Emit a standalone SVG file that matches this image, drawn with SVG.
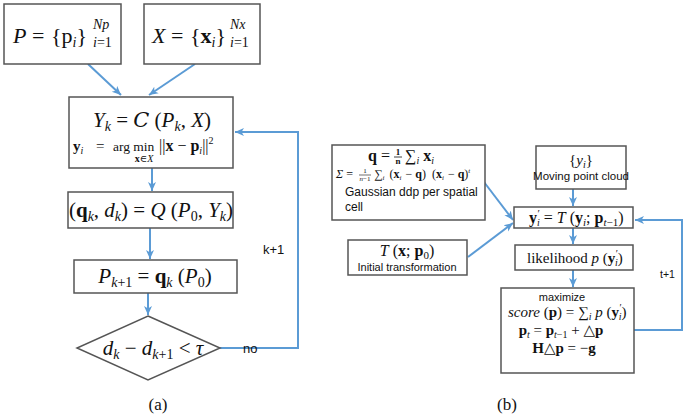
<svg xmlns="http://www.w3.org/2000/svg" width="685" height="415" viewBox="0 0 685 415">
<style>
.box{fill:#fff;stroke:#555;stroke-width:1.5}
.c{fill:none;stroke:#5b9bd5;stroke-width:2}
.m{font-family:"Liberation Serif","DejaVu Serif",serif;fill:#111}
.i{font-style:italic}
.b{font-weight:bold}
.s{font-family:"Liberation Sans",Arial,sans-serif;fill:#111}
</style>
<defs>
<marker id="ah" markerWidth="10" markerHeight="10" refX="9" refY="5" orient="auto" markerUnits="userSpaceOnUse">
<path d="M0,1 L9,5 L0,9 L2.5,5 z" fill="#5b9bd5"/>
</marker>
</defs>
<rect width="685" height="415" fill="#fff"/>

<g id="connectors">
<line class="c" x1="88" y1="64" x2="121" y2="95" marker-end="url(#ah)"/>
<line class="c" x1="195" y1="64" x2="149" y2="95" marker-end="url(#ah)"/>
<line class="c" x1="152" y1="168" x2="152" y2="191" marker-end="url(#ah)"/>
<line class="c" x1="150" y1="228" x2="150" y2="259" marker-end="url(#ah)"/>
<line class="c" x1="148" y1="293" x2="148" y2="315" marker-end="url(#ah)"/>
<polyline class="c" points="220,348 298,348 298,132 235,132" marker-end="url(#ah)"/>
<line class="c" x1="484" y1="182" x2="513" y2="220" marker-end="url(#ah)"/>
<line class="c" x1="468" y1="257" x2="513" y2="223" marker-end="url(#ah)"/>
<line class="c" x1="573" y1="189" x2="573" y2="206" marker-end="url(#ah)"/>
<line class="c" x1="573" y1="228" x2="573" y2="244" marker-end="url(#ah)"/>
<line class="c" x1="573" y1="270" x2="573" y2="287" marker-end="url(#ah)"/>
<polyline class="c" points="634,330 682,330 682,220 635,220" marker-end="url(#ah)"/>
</g>

<g id="nodeP">
<rect class="box" x="4" y="4" width="117" height="60"/>
<text class="m" y="43" font-size="22"><tspan class="i" x="13">P</tspan><tspan x="32">=</tspan><tspan x="51">{p</tspan><tspan class="i" font-size="14" dy="4">i</tspan><tspan dy="-4">}</tspan></text>
<text class="m i" x="93" y="29" font-size="14">Np</text>
<text class="m" x="93" y="47" font-size="14"><tspan class="i">i</tspan>=1</text>
</g>

<g id="nodeX">
<rect class="box" x="144" y="4" width="116" height="60"/>
<text class="m" y="43" font-size="22"><tspan class="i" x="152">X</tspan><tspan x="171">=</tspan><tspan x="190">{</tspan><tspan class="b">x</tspan><tspan class="i" font-size="14" dy="4">i</tspan><tspan dy="-4">}</tspan></text>
<text class="m i" x="230" y="29" font-size="14">Nx</text>
<text class="m" x="230" y="47" font-size="14"><tspan class="i">i</tspan>=1</text>
</g>

<g id="nodeY">
<rect class="box" x="69" y="97" width="164" height="71"/>
<text class="m" x="152" y="127" font-size="21" text-anchor="middle"><tspan class="i">Y</tspan><tspan class="i" font-size="14" dy="4">k</tspan><tspan dy="-4"> = </tspan><tspan font-family="DejaVu Serif" class="i">C</tspan> (<tspan class="i">P</tspan><tspan class="i" font-size="14" dy="4">k</tspan><tspan dy="-4">, </tspan><tspan class="i">X</tspan>)</text>
<text class="m" y="151" font-size="15"><tspan class="b" x="73">y</tspan><tspan class="i" font-size="10" dy="3">i</tspan><tspan x="96" dy="-3">=</tspan><tspan x="113" font-size="13.5">arg min</tspan><tspan x="159" font-size="16">||</tspan><tspan class="b" font-size="16">x</tspan><tspan font-size="16"> − </tspan><tspan class="b" font-size="16">p</tspan><tspan class="i" font-size="10" dy="3">i</tspan><tspan dy="-3" font-size="16">||</tspan><tspan font-size="10" dy="-7">2</tspan></text>
<text class="m" x="144" y="162" font-size="10" text-anchor="middle"><tspan class="b">x</tspan>∈<tspan class="i">X</tspan></text>
</g>

<g id="nodeQ">
<rect class="box" x="68" y="192" width="165" height="36"/>
<text class="m" x="151" y="217" font-size="21" text-anchor="middle">(<tspan class="b">q</tspan><tspan class="i" font-size="14" dy="4">k</tspan><tspan dy="-4">, </tspan><tspan class="i">d</tspan><tspan class="i" font-size="14" dy="4">k</tspan><tspan dy="-4">) = </tspan><tspan class="i">Q</tspan> (<tspan class="i">P</tspan><tspan font-size="14" dy="4">0</tspan><tspan dy="-4">, </tspan><tspan class="i">Y</tspan><tspan class="i" font-size="14" dy="4">k</tspan><tspan dy="-4">)</tspan></text>
</g>

<g id="nodeP1">
<rect class="box" x="74" y="260" width="163" height="33"/>
<text class="m" x="155" y="283" font-size="21" text-anchor="middle"><tspan class="i">P</tspan><tspan font-size="14" dy="4"><tspan class="i">k</tspan>+1</tspan><tspan dy="-4"> = </tspan><tspan class="b">q</tspan><tspan class="i" font-size="14" dy="4">k</tspan><tspan dy="-4"> (</tspan><tspan class="i">P</tspan><tspan font-size="14" dy="4">0</tspan><tspan dy="-4">)</tspan></text>
</g>

<g id="nodeD">
<polygon class="box" points="148,316 220,348 148,380 77,348"/>
<text class="m" x="153" y="355" font-size="21" text-anchor="middle"><tspan class="i">d</tspan><tspan class="i" font-size="14" dy="4">k</tspan><tspan dy="-4"> − </tspan><tspan class="i">d</tspan><tspan font-size="14" dy="4"><tspan class="i">k</tspan>+1</tspan><tspan dy="-4"> &lt; </tspan><tspan class="i">τ</tspan></text>
</g>

<text class="s" x="263" y="254" font-size="13">k+1</text>
<text class="s" x="243" y="353" font-size="13">no</text>
<text class="m" x="158" y="410" font-size="17" text-anchor="middle">(a)</text>

<g id="nodeQcell">
<rect class="box" x="332" y="145" width="153" height="75"/>
<text class="m" x="390" y="161" font-size="16" text-anchor="end"><tspan class="b">q</tspan> =</text>
<text class="m b" x="398" y="155" font-size="9" text-anchor="middle">1</text>
<line x1="394" y1="157" x2="402" y2="157" stroke="#111" stroke-width="0.8"/>
<text class="m b" x="398" y="164" font-size="9" text-anchor="middle">n</text>
<text class="m" x="405" y="161" font-size="16">∑<tspan class="i" font-size="10" dy="3">i</tspan><tspan class="b" dy="-3"> x</tspan><tspan class="i" font-size="10" dy="3">i</tspan></text>
<text class="m" x="336" y="178" font-size="12"><tspan class="i">Σ</tspan> = </text>
<text class="m" x="365" y="173" font-size="7" text-anchor="middle">1</text>
<line x1="359" y1="175" x2="371" y2="175" stroke="#111" stroke-width="0.6"/>
<text class="m" x="365" y="181" font-size="7" text-anchor="middle"><tspan class="i">n</tspan>−1</text>
<text class="m" x="374" y="178" font-size="12">∑<tspan class="i" font-size="7" dy="2">i</tspan><tspan dy="-2" dx="2"> (</tspan><tspan class="b">x</tspan><tspan class="i" font-size="7" dy="2">i</tspan><tspan dy="-2" dx="1"> − </tspan><tspan class="b">q</tspan>)<tspan dx="3"> (</tspan><tspan class="b">x</tspan><tspan class="i" font-size="7" dy="2">i</tspan><tspan dy="-2" dx="1"> − </tspan><tspan class="b">q</tspan>)<tspan class="i" font-size="7" dy="-5">t</tspan></text>
<text class="s" x="345" y="196" font-size="12">Gaussian ddp per spatial</text>
<text class="s" x="345" y="211" font-size="12">cell</text>
</g>

<g id="nodeT">
<rect class="box" x="348" y="240" width="119" height="35"/>
<text class="m" x="407" y="256" font-size="16" text-anchor="middle"><tspan class="i">T</tspan> (<tspan class="b">x</tspan>; <tspan class="b">p</tspan><tspan font-size="11" dy="3">0</tspan><tspan dy="-3">)</tspan></text>
<text class="s" x="407" y="271" font-size="11" text-anchor="middle">Initial transformation</text>
</g>

<g id="nodeYi">
<rect class="box" x="536" y="146" width="90" height="43"/>
<text class="m" x="581" y="165" font-size="15" text-anchor="middle">{<tspan class="i">y</tspan><tspan class="i" font-size="10" dy="3">i</tspan><tspan dy="-3">}</tspan></text>
<text class="s" x="581" y="180" font-size="11.5" text-anchor="middle">Moving point cloud</text>
</g>

<g id="nodeYp">
<rect class="box" x="514" y="207" width="119" height="21"/>
<text class="m" y="223" font-size="16"><tspan class="b" x="529">y</tspan><tspan font-size="11" dx="0.5" dy="-6">′</tspan><tspan class="i" font-size="10" dx="-3" dy="9">i</tspan><tspan dy="-3"> = </tspan><tspan class="i">T</tspan> (<tspan class="b">y</tspan><tspan class="i" font-size="11" dy="3">i</tspan><tspan dy="-3">; </tspan><tspan class="b">p</tspan><tspan font-size="11" dy="3"><tspan class="i">t</tspan>−1</tspan><tspan dy="-3">)</tspan></text>
</g>

<g id="nodeL">
<rect class="box" x="515" y="245" width="118" height="25"/>
<text class="m" y="263" font-size="15"><tspan x="527">likelihood </tspan><tspan class="i">p</tspan> (<tspan class="b">y</tspan><tspan font-size="10" dx="0.5" dy="-6">′</tspan><tspan class="i" font-size="10" dx="-3" dy="9">i</tspan><tspan dy="-3">)</tspan></text>
</g>

<g id="nodeM">
<rect class="box" x="501" y="288" width="133" height="85"/>
<text class="s" x="562" y="301" font-size="11" text-anchor="middle">maximize</text>
<text class="m" y="317" font-size="15"><tspan class="i" x="508">score</tspan> (<tspan class="b">p</tspan>) = ∑<tspan class="i" font-size="10" dy="3">i</tspan><tspan class="i" dy="-3"> p</tspan> (<tspan class="b">y</tspan><tspan font-size="10" dx="0.5" dy="-6">′</tspan><tspan class="i" font-size="10" dx="-3" dy="9">i</tspan><tspan dy="-3">)</tspan></text>
<text class="m" x="561" y="335" font-size="15" text-anchor="middle"><tspan class="b">p</tspan><tspan class="i" font-size="10" dy="3">t</tspan><tspan dy="-3"> = </tspan><tspan class="b">p</tspan><tspan font-size="10" dy="3"><tspan class="i">t</tspan>−1</tspan><tspan dy="-3"> + △</tspan><tspan class="b">p</tspan></text>
<text class="m" x="564" y="353" font-size="15" text-anchor="middle"><tspan class="b">H</tspan>△<tspan class="b">p</tspan> = −<tspan class="b">g</tspan></text>
</g>

<text class="s" x="660" y="278" font-size="10.5">t+1</text>
<text class="m" x="507" y="410" font-size="17" text-anchor="middle">(b)</text>
</svg>
